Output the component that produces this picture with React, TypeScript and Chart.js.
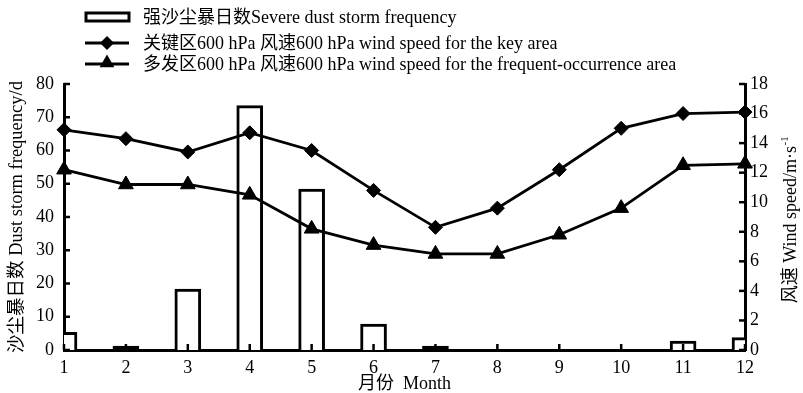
import React, { useEffect, useRef } from "react";
import { Chart, registerables } from "chart.js";

Chart.register(...registerables);

// ---- data ----
const months = [1, 2, 3, 4, 5, 6, 7, 8, 9, 10, 11, 12];
const stormDays = [5.3, 1.2, 18.3, 73.5, 48.4, 7.8, 1.2, 0, 0, 0, 2.7, 3.7];
const keyAreaWind = [14.9, 14.3, 13.4, 14.7, 13.5, 10.8, 8.3, 9.6, 12.2, 15.0, 16.0, 16.1];
const frequentAreaWind = [12.2, 11.2, 11.2, 10.5, 8.2, 7.1, 6.5, 6.5, 7.8, 9.6, 12.5, 12.6];
const leftTicks = [0, 10, 20, 30, 40, 50, 60, 70, 80];
const rightTicks = [0, 2, 4, 6, 8, 10, 12, 14, 16, 18];
const legendLabels = [
  "强沙尘暴日数Severe dust storm frequency",
  "关键区600 hPa 风速600 hPa wind speed for the key area",
  "多发区600 hPa 风速600 hPa wind speed for the frequent-occurrence area",
];
const leftTitle = "沙尘暴日数 Dust storm frequency/d";
const rightTitle = "风速 Wind speed/m·s";
const rightTitleSup = "-1";
const xTitle = "月份  Month";

const FONT = "'Liberation Serif', 'Times New Roman', 'Noto Sans CJK SC', serif";

function drawDiamond(ctx: CanvasRenderingContext2D, x: number, y: number, r: number) {
  ctx.beginPath();
  ctx.moveTo(x, y - r);
  ctx.lineTo(x + r, y);
  ctx.lineTo(x, y + r);
  ctx.lineTo(x - r, y);
  ctx.closePath();
  ctx.fill();
}
function drawTriangle(ctx: CanvasRenderingContext2D, x: number, y: number, r: number) {
  const s = Math.sin((2 * Math.PI) / 3) * r;
  ctx.beginPath();
  ctx.moveTo(x, y - r);
  ctx.lineTo(x + s, y + r / 2);
  ctx.lineTo(x - s, y + r / 2);
  ctx.closePath();
  ctx.fill();
}

const decorPlugin = {
  id: "decor",
  afterDraw(chart: any) {
    const ctx: CanvasRenderingContext2D = chart.ctx;
    const xs = chart.scales.x;
    const yl = chart.scales.yL;
    const yr = chart.scales.yR;
    const area = chart.chartArea;
    ctx.save();
    ctx.strokeStyle = "#000";
    ctx.fillStyle = "#000";
    ctx.lineWidth = 2.5;
    // inward ticks
    const tl = 6;
    leftTicks.forEach((v) => {
      const y = yl.getPixelForValue(v);
      ctx.beginPath();
      ctx.moveTo(area.left, y);
      ctx.lineTo(area.left + tl, y);
      ctx.stroke();
    });
    rightTicks.forEach((v) => {
      const y = yr.getPixelForValue(v);
      ctx.beginPath();
      ctx.moveTo(area.right, y);
      ctx.lineTo(area.right - tl, y);
      ctx.stroke();
    });
    months.forEach((m) => {
      const x = xs.getPixelForValue(m);
      ctx.beginPath();
      ctx.moveTo(x, area.bottom);
      ctx.lineTo(x, area.bottom - tl);
      ctx.stroke();
    });

    // legend
    const lx0 = 86;
    const lx1 = 129;
    const tx = 143;
    const rows = [17, 43, 64];
    ctx.font = `18px ${FONT}`;
    ctx.textBaseline = "middle";
    ctx.textAlign = "left";
    // row 1: hollow bar
    ctx.lineWidth = 3;
    ctx.fillStyle = "#fff";
    ctx.fillRect(lx0, rows[0] - 4, lx1 - lx0, 8);
    ctx.strokeRect(lx0, rows[0] - 4, lx1 - lx0, 8);
    ctx.fillStyle = "#000";
    ctx.fillText(legendLabels[0], tx, rows[0] + 1);
    // row 2: diamond line
    ctx.lineWidth = 2.8;
    ctx.beginPath();
    ctx.moveTo(lx0 - 1, rows[1]);
    ctx.lineTo(lx1, rows[1]);
    ctx.stroke();
    drawDiamond(ctx, 107, rows[1], 7);
    ctx.fillText(legendLabels[1], tx, rows[1] + 1);
    // row 3: triangle line
    ctx.beginPath();
    ctx.moveTo(lx0 - 1, rows[2]);
    ctx.lineTo(lx1, rows[2]);
    ctx.stroke();
    drawTriangle(ctx, 107, rows[2] - 1, 8.5);
    ctx.fillText(legendLabels[2], tx, rows[2] + 1);

    // right axis title (reads bottom to top)
    ctx.translate(791, (area.top + area.bottom) / 2 + 3);
    ctx.rotate(-Math.PI / 2);
    ctx.font = `18px ${FONT}`;
    const w1 = ctx.measureText(rightTitle).width;
    ctx.font = `11px ${FONT}`;
    const w2 = ctx.measureText(rightTitleSup).width;
    const start = -(w1 + w2) / 2;
    ctx.font = `18px ${FONT}`;
    ctx.fillText(rightTitle, start, 0);
    ctx.font = `11px ${FONT}`;
    ctx.fillText(rightTitleSup, start + w1 + 0.5, -6);
    ctx.restore();
  },
};

export default function App() {
  const ref = useRef<HTMLCanvasElement | null>(null);
  useEffect(() => {
    if (!ref.current) return;
    const chart = new Chart(ref.current, {
      type: "bar",
      data: {
        datasets: [
          {
            type: "line",
            label: legendLabels[1],
            data: months.map((m, i) => ({ x: m, y: keyAreaWind[i] })),
            yAxisID: "yR",
            borderColor: "#000",
            borderWidth: 2.8,
            backgroundColor: "#000",
            pointStyle: "rectRot",
            pointRadius: 7,
            pointBorderWidth: 1,
            pointBackgroundColor: "#000",
            pointBorderColor: "#000",
            tension: 0,
            clip: false,
            order: 0,
          } as any,
          {
            type: "line",
            label: legendLabels[2],
            data: months.map((m, i) => ({ x: m, y: frequentAreaWind[i] })),
            yAxisID: "yR",
            borderColor: "#000",
            borderWidth: 2.8,
            backgroundColor: "#000",
            pointStyle: "triangle",
            pointRadius: 8.5,
            pointBorderWidth: 1,
            pointBackgroundColor: "#000",
            pointBorderColor: "#000",
            tension: 0,
            clip: false,
            order: 1,
          } as any,
          {
            type: "bar",
            label: legendLabels[0],
            data: months.map((m, i) => ({ x: m, y: stormDays[i] })),
            yAxisID: "yL",
            backgroundColor: (c: any) => (c.raw && c.raw.y < 2 ? "#000" : "#fff"),
            borderColor: "#000",
            borderWidth: 3,
            barThickness: 26,
            order: 2,
          } as any,
        ],
      },
      options: {
        animation: false,
        responsive: false,
        devicePixelRatio: 1,
        layout: { padding: { top: 84, left: 0, right: 0, bottom: 0 } },
        plugins: {
          legend: { display: false },
          tooltip: { enabled: false },
        },
        scales: {
          x: {
            type: "linear",
            min: 1,
            max: 12,
            offset: false,
            afterFit: (s: any) => {
              s.height = 43;
            },
            afterBuildTicks: (s: any) => {
              s.ticks = months.map((m) => ({ value: m }));
            },
            grid: { display: false, drawTicks: false },
            border: { display: true, width: 3, color: "#000" },
            ticks: {
              color: "#000",
              font: { family: FONT, size: 18 },
              padding: 7,
              maxRotation: 0,
              autoSkip: false,
            },
            title: {
              display: true,
              text: xTitle,
              color: "#000",
              font: { family: FONT, size: 18, lineHeight: 1 },
              padding: { top: 0, bottom: 0 },
            },
          },
          yL: {
            type: "linear",
            position: "left",
            min: 0,
            max: 80,
            afterFit: (s: any) => {
              s.width = 64;
            },
            afterBuildTicks: (s: any) => {
              s.ticks = leftTicks.map((v) => ({ value: v }));
            },
            grid: { display: false, drawTicks: false },
            border: { display: true, width: 3, color: "#000" },
            ticks: {
              color: "#000",
              font: { family: FONT, size: 18 },
              padding: 10,
            },
            title: {
              display: true,
              text: leftTitle,
              color: "#000",
              font: { family: FONT, size: 18.5, lineHeight: 1.2 },
              padding: { top: 6, bottom: 0 },
            },
          },
          yR: {
            type: "linear",
            position: "right",
            min: 0,
            max: 18,
            afterFit: (s: any) => {
              s.width = 58;
            },
            afterBuildTicks: (s: any) => {
              s.ticks = rightTicks.map((v) => ({ value: v }));
            },
            grid: { display: false, drawTicks: false },
            border: { display: true, width: 3, color: "#000" },
            ticks: {
              color: "#000",
              font: { family: FONT, size: 18 },
              padding: 5,
            },
          },
        },
      },
      plugins: [decorPlugin],
    });
    return () => chart.destroy();
  }, []);
  return (
    <div style={{ position: "fixed", left: 0, top: 0, width: 803, height: 393, background: "#fff" }}>
      <canvas ref={ref} width={803} height={393} style={{ display: "block" }} />
    </div>
  );
}
